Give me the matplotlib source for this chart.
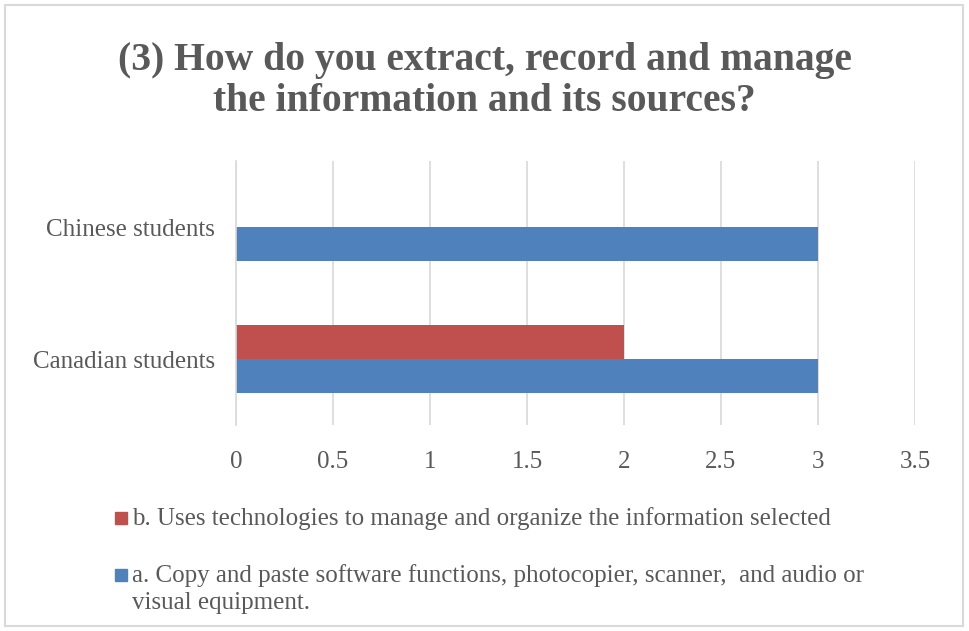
#!/usr/bin/env python3
import matplotlib

matplotlib.use("Agg")

import matplotlib.pyplot as plt
import numpy as np
from matplotlib.patches import Rectangle

TITLE = "(3) How do you extract, record and manage\nthe information and its sources?"
CATEGORIES = ["Canadian students", "Chinese students"]
SERIES_A = [3, 3]
SERIES_B = [2, 0]
LABEL_A = "a. Copy and paste software functions, photocopier, scanner,  and audio or\nvisual equipment."
LABEL_B = "b. Uses technologies to manage and organize the information selected"
X_TICKS = [0, 0.5, 1, 1.5, 2, 2.5, 3, 3.5]

BLUE = "#4F81BD"
RED = "#C0504D"
TEXT = "#595959"
GRID = "#D9D9D9"

plt.rcParams["font.family"] = ["Liberation Serif", "DejaVu Serif"]

W, H = 969, 631
fig = plt.figure(figsize=(W / 100, H / 100), dpi=100)
ax = fig.add_axes([236 / W, 1 - 425 / H, (915 - 236) / W, (425 - 161) / H])

y = np.arange(len(CATEGORIES))
h = 0.26
bars_a = ax.barh(y - h / 2, SERIES_A, height=h, color=BLUE, zorder=3)
bars_b = ax.barh(y + h / 2, SERIES_B, height=h, color=RED, zorder=3)

ax.set_xlim(0, 3.5)
ax.set_ylim(-0.5, 1.5)
ax.set_xticks(X_TICKS, [f"{t:g}" for t in X_TICKS])
ax.set_yticks(y, CATEGORIES)
ax.tick_params(axis="both", length=0, labelsize=18, colors=TEXT)
ax.tick_params(axis="y", pad=15)
ax.tick_params(axis="x", pad=19)
ax.xaxis.grid(True, color=GRID, linewidth=1.2, zorder=0)
for side in ["top", "right", "bottom"]:
    ax.spines[side].set_visible(False)
ax.spines["left"].set_color(GRID)
ax.spines["left"].set_linewidth(1.2)
ax.spines["left"].set_zorder(4)

fig.text(0.5, 1 - 81 / H, TITLE, ha="center", va="center", fontsize=28.5,
         fontweight="bold", color=TEXT, linespacing=1.15)

# legend drawn by hand so the square lines up with the first text line
legend_rows = [(bars_b, LABEL_B, 518), (bars_a, LABEL_A, 575)]
for bars, label, yc in legend_rows:
    color = bars.patches[0].get_facecolor()
    fig.patches.append(Rectangle((115 / W, 1 - (yc + 6) / H), 12 / W, 12 / H,
                                 transform=fig.transFigure, color=color))
    fig.text(132 / W, 1 - (yc - 11) / H, label, ha="left", va="top", fontsize=18,
             color=TEXT, linespacing=1.3)

fig.patches.append(Rectangle((5 / W, 5 / H), (963 - 5) / W, (626 - 5) / H,
                             transform=fig.transFigure, fill=False,
                             edgecolor=GRID, linewidth=1.5))

fig.savefig("out.png", dpi=100)
